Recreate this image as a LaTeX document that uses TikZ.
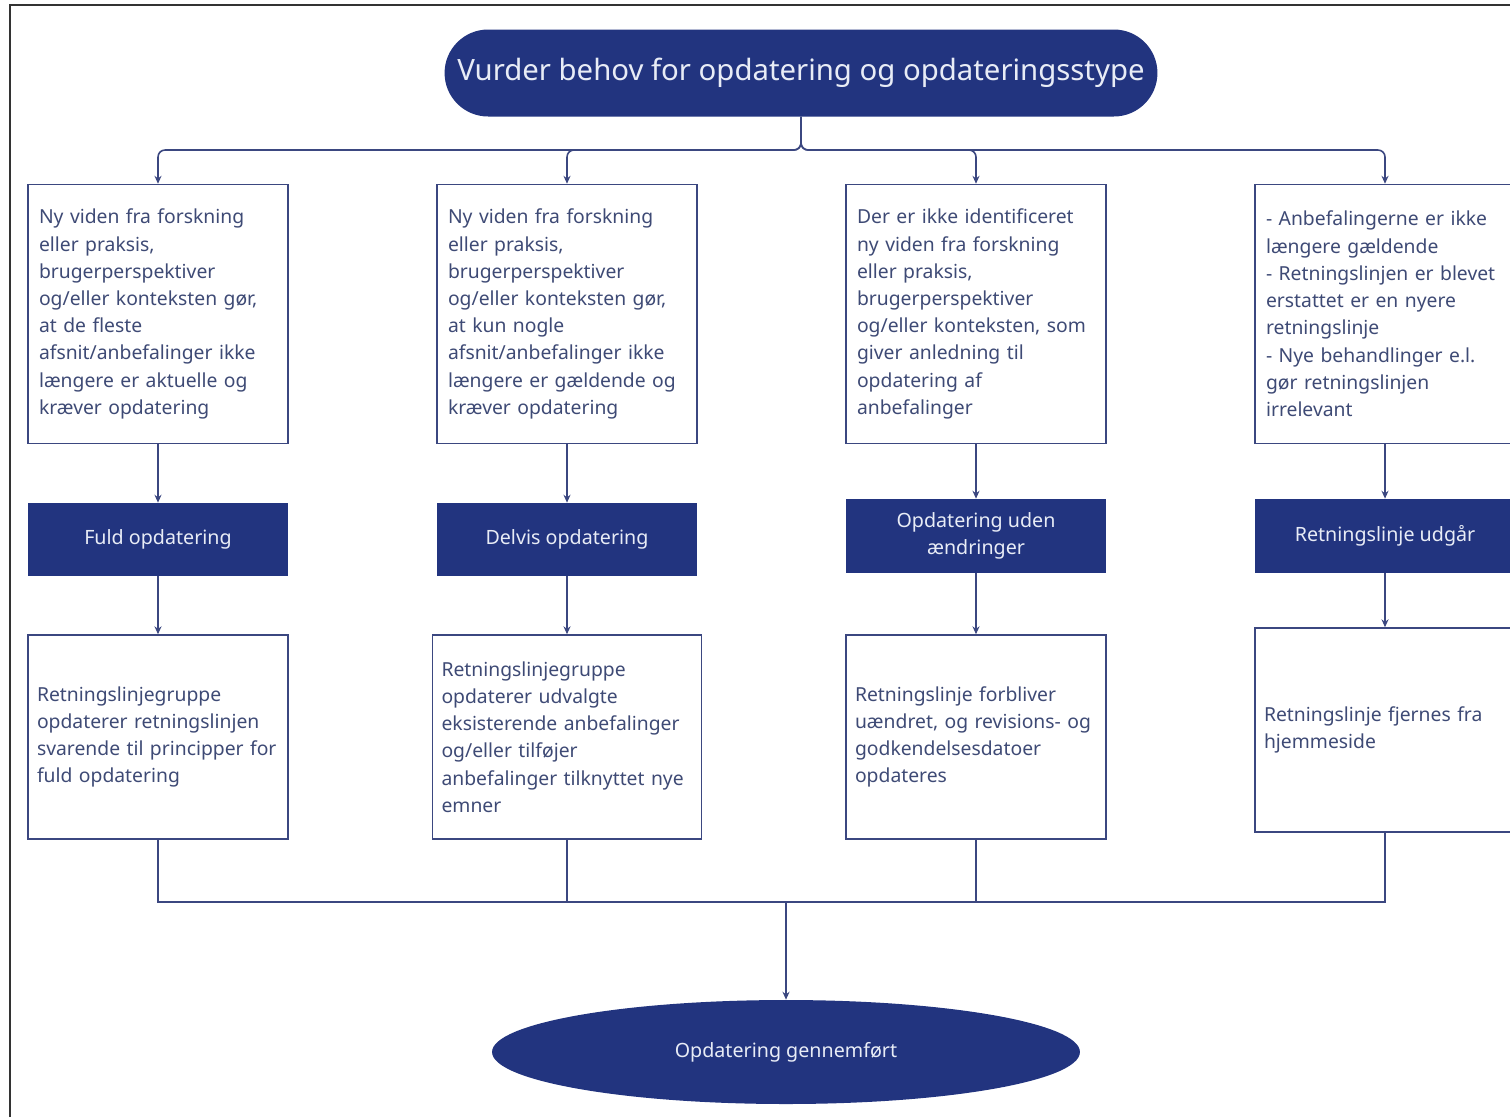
\documentclass[tikz,border=0pt]{standalone}
\usepackage{fontspec}
\setmainfont{Noto Sans}
\usetikzlibrary{arrows.meta,positioning,shapes.geometric}
\definecolor{navy}{HTML}{22347F}
\definecolor{edge}{HTML}{3B4780}
\definecolor{txt}{HTML}{3E4A75}
\definecolor{paletxt}{HTML}{E8ECF6}

\begin{document}
\begin{tikzpicture}[x=0.02cm,y=-0.02cm,
    >={Stealth[length=4.5pt,width=4pt]},
    line/.style={draw=edge, line width=0.9pt},
    infobox/.style={rectangle, draw=edge, line width=0.9pt, text=txt, align=left,
      font=\fontsize{11}{15.5}\selectfont, inner xsep=0.22cm, text width=4.76cm,
      minimum width=5.2cm, minimum height=5.18cm},
    resultbox/.style={infobox, inner xsep=0.18cm, text width=4.84cm, minimum height=4.08cm},
    typebox/.style={rectangle, fill=navy, text=paletxt, align=center,
      font=\fontsize{11.2}{15.5}\selectfont, minimum width=5.2cm, minimum height=1.46cm}]
    \useasboundingbox (0,0) rectangle (1510,1117);
    % Frame
    \draw[line width=1.2pt, black!80] (10,1117) -- (10,5) -- (1510,5);
    % Start
    \node[rectangle, rounded corners=0.87cm, fill=navy, text=paletxt,
      minimum width=14.26cm, minimum height=1.74cm, font=\fontsize{16.7}{19}\selectfont]
      (top) at (801,73) {Vurder behov for opdatering og opdateringsstype};
    % Situations
    \node[infobox] (a1) at (158,314) {Ny viden fra forskning\\ eller praksis,\\ brugerperspektiver\\ og/eller konteksten gør,\\ at de fleste\\ afsnit/anbefalinger ikke\\ længere er aktuelle og\\ kræver opdatering};
    \node[infobox] (a2) at (567,314) {Ny viden fra forskning\\ eller praksis,\\ brugerperspektiver\\ og/eller konteksten gør,\\ at kun nogle\\ afsnit/anbefalinger ikke\\ længere er gældende og\\ kræver opdatering};
    \node[infobox] (a3) at (976,314) {Der er ikke identificeret\\ ny viden fra forskning\\ eller praksis,\\ brugerperspektiver\\ og/eller konteksten, som\\ giver anledning til\\ opdatering af\\ anbefalinger};
    \node[infobox] (a4) at (1385,314) {- Anbefalingerne er ikke\\ længere gældende\\ - Retningslinjen er blevet\\ erstattet er en nyere\\ retningslinje\\ - Nye behandlinger e.l.\\ gør retningslinjen\\ irrelevant};
    % Update types
    \node[typebox] (b1) at (158,539.5) {Fuld opdatering};
    \node[typebox] (b2) at (567,539.5) {Delvis opdatering};
    \node[typebox, minimum height=1.48cm] (b3) at (976,536) {Opdatering uden\\ ændringer};
    \node[typebox, minimum height=1.48cm] (b4) at (1385,536) {Retningslinje udgår};
    % Results
    \node[resultbox] (c1) at (158,737) {Retningslinjegruppe\\ opdaterer retningslinjen\\ svarende til principper for\\ fuld opdatering};
    \node[resultbox, text width=5.02cm, minimum width=5.38cm] (c2) at (567,737) {Retningslinjegruppe\\ opdaterer udvalgte\\ eksisterende anbefalinger\\ og/eller tilføjer\\ anbefalinger tilknyttet nye\\ emner};
    \node[resultbox] (c3) at (976,737) {Retningslinje forbliver\\ uændret, og revisions- og\\ godkendelsesdatoer\\ opdateres};
    \node[resultbox] (c4) at (1385,730) {Retningslinje fjernes fra\\ hjemmeside};
    % End
    \node[ellipse, fill=navy, text=paletxt, minimum width=11.76cm, minimum height=2.08cm,
      font=\fontsize{11.2}{15.5}\selectfont] (done) at (786,1052) {Opdatering gennemført};
    % Connectors
    \coordinate (split) at (801,150);
    \coordinate (merge) at (786,902);
    \foreach \i in {1,...,4} {
      \draw[line,->,rounded corners=4pt] (top.south) -- (split) -| (a\i.north);
      \draw[line,->] (a\i.south) -- (b\i.north);
      \draw[line,->] (b\i.south) -- (c\i.north);
      \draw[line] (c\i.south) |- (merge);
    }
    \draw[line,->] (merge) -- (done.north);
\end{tikzpicture}
\end{document}
